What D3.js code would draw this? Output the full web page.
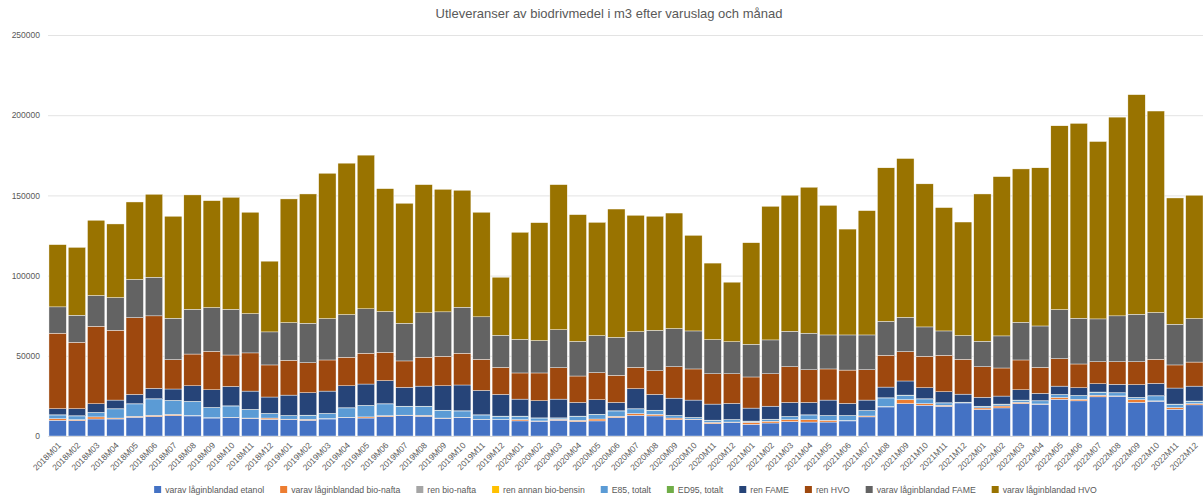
<!DOCTYPE html>
<html>
<head>
<meta charset="utf-8">
<script src="https://cdn.jsdelivr.net/npm/d3@7"></script>
<style>
  html, body { margin: 0; padding: 0; background: #ffffff; }
  #chart { width: 1203px; height: 497px; overflow: hidden; }
</style>
</head>
<body>
<div id="chart"></div>
<script>
// Månader 2018M01 .. 2022M12
const years = ["2018", "2019", "2020", "2021", "2022"];
const monthNums = ["01", "02", "03", "04", "05", "06", "07", "08", "09", "10", "11", "12"];
const months = years.flatMap(y => monthNums.map(m => `${y}M${m}`));

const yTicks = [0, 50000, 100000, 150000, 200000, 250000];

// Series values, m3
const etanolLag = [
  9800, 9600, 10600, 10600, 11700, 12100, 12700, 12500, 11200, 11500, 11000, 10400,
  10200, 9800, 10600, 11500, 11200, 12100, 12700, 12300, 11000, 11500, 10200, 10200,
  9400, 9200, 9800, 9000, 9400, 11500, 12900, 12500, 10200, 10200, 7700, 8500,
  7300, 8100, 9000, 8700, 8700, 9400, 11900, 18100, 20200, 19200, 18500, 20600,
  16500, 17500, 20200, 19800, 22900, 21900, 24400, 24800, 21000, 21700, 16700, 19400
];
const bioNaftaLag = [
  1000, 600, 1300, 600, 600, 800, 800, 300, 200, 200, 200, 800,
  300, 600, 300, 200, 700, 600, 300, 600, 200, 200, 200, 100,
  800, 200, 600, 800, 1200, 800, 1100, 1000, 1000, 300, 800, 200,
  1200, 1100, 1200, 1500, 1100, 300, 600, 300, 2500, 1000, 700, 200,
  1000, 1200, 800, 200, 1100, 1000, 1000, 200, 1700, 200, 1000, 800
];
const renBioNafta = [
  0, 0, 0, 0, 0, 0, 0, 0, 0, 0, 0, 0,
  0, 0, 0, 0, 0, 0, 0, 0, 0, 0, 0, 0,
  0, 0, 0, 0, 0, 0, 0, 0, 0, 0, 0, 0,
  0, 0, 0, 0, 0, 0, 0, 0, 0, 0, 0, 0,
  0, 0, 0, 0, 0, 0, 0, 0, 0, 0, 0, 0
];
const renAnnanBioBensin = [
  0, 0, 0, 0, 0, 0, 0, 0, 0, 0, 0, 0,
  0, 0, 0, 0, 0, 0, 0, 0, 0, 0, 0, 0,
  0, 0, 0, 0, 0, 0, 0, 0, 0, 0, 0, 0,
  0, 0, 0, 0, 0, 0, 0, 0, 0, 0, 0, 0,
  0, 0, 0, 0, 0, 0, 0, 0, 0, 0, 0, 0
];
const e85 = [
  2300, 2300, 2700, 5700, 7700, 10200, 8600, 8700, 6300, 7000, 5300, 2800,
  2200, 2500, 3100, 5800, 7100, 7300, 5500, 5600, 4800, 3900, 2700, 2000,
  2100, 1800, 800, 2500, 2900, 3300, 2900, 2500, 1500, 1000, 1300, 1500,
  700, 1200, 1900, 2900, 2900, 3000, 3300, 5300, 2700, 2900, 1400, 200,
  1000, 1100, 1300, 1900, 1800, 2300, 1900, 1900, 1300, 3100, 2100, 1500
];
const ed95 = [
  100, 100, 100, 100, 100, 100, 100, 100, 100, 100, 100, 100,
  100, 100, 100, 100, 100, 100, 100, 100, 100, 100, 100, 100,
  100, 100, 100, 100, 100, 100, 100, 100, 100, 100, 100, 100,
  100, 100, 100, 100, 100, 100, 100, 100, 100, 100, 100, 100,
  100, 100, 100, 100, 100, 100, 100, 100, 100, 100, 100, 100
];
const renFame = [
  3800, 4400, 5400, 5400, 5800, 6500, 7100, 9700, 11000, 12100, 11400, 10200,
  12700, 14000, 13900, 13700, 13300, 14400, 11700, 12500, 15200, 16100, 15200, 13500,
  10600, 10700, 11700, 8500, 9000, 5200, 12500, 9800, 10800, 10800, 10000, 10000,
  8100, 8100, 8700, 7700, 9600, 7500, 6500, 6700, 8800, 6900, 6900, 5000,
  5500, 5000, 6400, 4600, 5200, 4800, 5200, 5200, 7900, 7700, 10000, 9300
];
const renHvo = [
  47100, 41400, 48300, 43500, 47900, 45200, 18300, 19800, 24000, 19600, 23800, 20000,
  21700, 18700, 19400, 17800, 19200, 17700, 16500, 18000, 18400, 19800, 19400, 16900,
  16300, 17300, 19600, 16500, 16900, 16900, 13300, 14800, 19600, 19400, 18900, 18500,
  19400, 20200, 22300, 20400, 19400, 20800, 18900, 19800, 18300, 19600, 22700, 21700,
  19100, 17500, 18600, 16200, 17100, 14800, 13700, 14100, 14300, 15000, 14400, 15000
];
const fameLag = [
  16400, 16900, 19200, 20400, 23800, 24100, 25800, 27900, 27300, 28500, 24500, 20600,
  23500, 24600, 25800, 26600, 27700, 25400, 23500, 27700, 27700, 28700, 26500, 20000,
  21000, 20200, 23700, 21600, 23100, 23700, 22300, 25200, 23800, 23700, 21300, 20000,
  20400, 21100, 22100, 22800, 21200, 21900, 21700, 21200, 21400, 18300, 15200, 14800,
  15900, 20000, 23500, 25800, 30600, 28500, 26700, 28600, 29600, 29200, 25400, 27100
];
const hvoLag = [
  38800, 42300, 46900, 45900, 48300, 51700, 63600, 71300, 66600, 69800, 63200, 44100,
  77100, 80600, 90600, 94400, 95800, 76600, 74800, 79900, 76400, 72900, 65200, 36200,
  66700, 73500, 90400, 79000, 70600, 80000, 72500, 71100, 72000, 59600, 47700, 37100,
  63300, 83300, 84800, 91000, 80800, 66000, 77500, 95700, 99000, 89200, 76900, 70800,
  91800, 99300, 95600, 98600, 114600, 121500, 110600, 123900, 136900, 125600, 78700, 76900
];

const seriesNames = [
  "varav låginblandad etanol",
  "varav låginblandad bio-nafta",
  "ren bio-nafta",
  "ren annan bio-bensin",
  "E85, totalt",
  "ED95, totalt",
  "ren FAME",
  "ren HVO",
  "varav låginblandad FAME",
  "varav låginblandad HVO"
];
const seriesValues = [etanolLag, bioNaftaLag, renBioNafta, renAnnanBioBensin, e85, ed95, renFame, renHvo, fameLag, hvoLag];
const seriesColors = ["#4472c4", "#ed7d31", "#a5a5a5", "#ffc000", "#5b9bd5", "#70ad47", "#264478", "#9e480e", "#636363", "#997300"];

const width = 1203;
const height = 497;
const margin = {top: 35, right: -1, bottom: 61, left: 48};
const textColor = "#595959";
const fontFamily = "'Liberation Sans', Arial, sans-serif";

// table the stack can eat: one row per month
const table = months.map((m, i) => {
  const row = {month: m};
  seriesNames.forEach((name, s) => { row[name] = seriesValues[s][i]; });
  return row;
});

const stacked = d3.stack().keys(seriesNames)(table);

const svg = d3.select("#chart")
  .append("svg")
  .attr("width", width)
  .attr("height", height)
  .style("font-family", fontFamily);

const x = d3.scaleBand()
  .domain(months)
  .range([margin.left, width - margin.right])
  .paddingInner(0.1)
  .paddingOuter(0.05);

const y = d3.scaleLinear()
  .domain([0, 250000])
  .range([height - margin.bottom, margin.top]);

// title
svg.append("text")
  .attr("x", 609)
  .attr("y", 18)
  .attr("text-anchor", "middle")
  .style("font-size", "13px")
  .attr("fill", textColor)
  .text("Utleveranser av biodrivmedel i m3 efter varuslag och månad");

// gridlines + y labels
const yAxis = g => g
  .attr("transform", `translate(${margin.left},0)`)
  .call(d3.axisLeft(y).tickValues(yTicks).tickSize(-(width - margin.left)).tickFormat(d3.format("d")).tickPadding(8))
  .call(g => g.select(".domain").remove())
  .call(g => g.selectAll(".tick line").attr("stroke", "#e3e3e3").attr("stroke-width", 1))
  .call(g => g.selectAll(".tick text")
    .attr("fill", textColor)
    .style("font-size", "8.5px")
    .style("font-family", fontFamily));

svg.append("g").call(yAxis);

// bars
svg.append("g")
  .selectAll("g")
  .data(stacked)
  .join("g")
    .attr("fill", (d, i) => seriesColors[i])
  .selectAll("rect")
  .data(d => d)
  .join("rect")
    .attr("x", d => x(d.data.month))
    .attr("y", d => y(d[1]))
    .attr("width", x.bandwidth())
    .attr("height", d => Math.max(0, y(d[0]) - y(d[1])))
    .attr("stroke", "#ffffff")
    .attr("stroke-width", 0.4);

// x axis labels, rotated
const xAxis = g => g
  .attr("transform", `translate(0,${height - margin.bottom})`)
  .call(d3.axisBottom(x).tickSize(0).tickPadding(0))
  .call(g => g.select(".domain").attr("stroke", "#d9d9d9"))
  .call(g => g.selectAll(".tick text")
    .attr("fill", textColor)
    .style("font-size", "8.5px")
    .style("font-family", fontFamily)
    .attr("text-anchor", "end")
    .attr("dy", 0)
    .attr("transform", "translate(4,10) rotate(-45)"));

svg.append("g").call(xAxis);

// legend, centred under the plot
const legend = svg.append("g")
  .style("font-size", "8.7px")
  .attr("fill", textColor);

const box = 7;
const boxGap = 4;
const itemGap = 16;
let cursor = 0;
seriesNames.forEach((name, i) => {
  const item = legend.append("g");
  item.append("rect")
    .attr("x", 0)
    .attr("y", -box + 1)
    .attr("width", box)
    .attr("height", box)
    .attr("fill", seriesColors[i]);
  const t = item.append("text")
    .attr("x", box + boxGap)
    .attr("y", 0)
    .attr("dy", "0.1em")
    .text(name);
  const w = box + boxGap + t.node().getComputedTextLength();
  item.attr("transform", `translate(${cursor},0)`);
  cursor += w + itemGap;
});
const legendWidth = cursor - itemGap;
legend.attr("transform", `translate(${(margin.left + width) / 2 - legendWidth / 2},492)`);
</script>
</body>
</html>
